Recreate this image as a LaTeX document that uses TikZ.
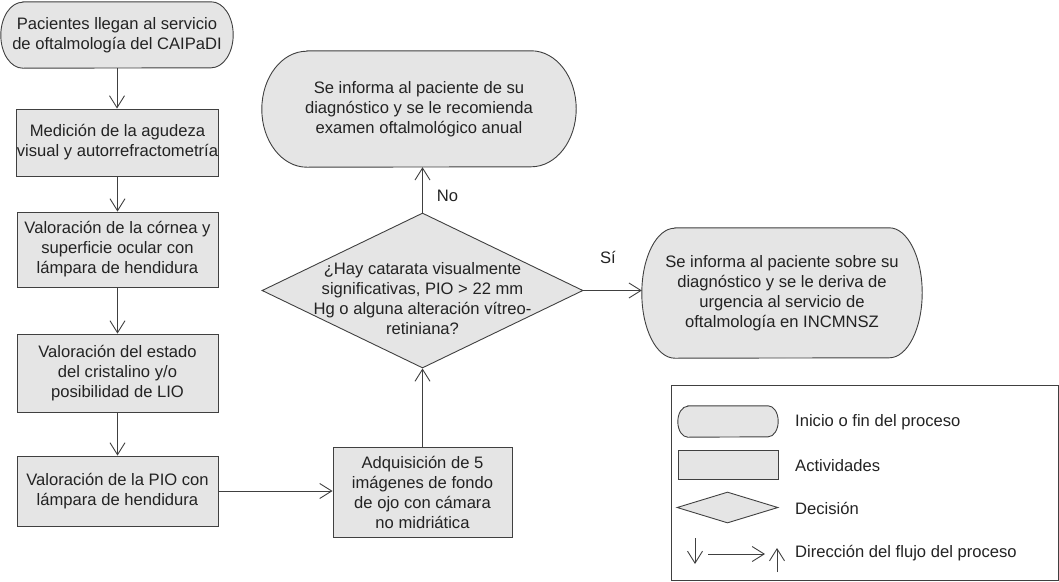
\documentclass[tikz,border=0pt]{standalone}
\usepackage{fontspec}
\setmainfont{Liberation Sans}
\usetikzlibrary{shapes.geometric,arrows.meta}
\definecolor{relleno}{RGB}{229,229,229}
\definecolor{trazo}{RGB}{64,64,64}
\definecolor{texto}{RGB}{35,35,35}
\pgfdeclarelayer{fondo}
\pgfsetlayers{fondo,main}
\tikzset{
  terminal/.style={inner sep=0pt, align=center, text=texto},
  forma/.style={draw=trazo, fill=relleno, line width=0.9pt},
  actividad/.style={forma, inner sep=0pt, align=center, text=texto},
  decision/.style={forma, diamond, inner sep=0pt},
  etiqueta/.style={text=texto, align=center, inner sep=0pt},
  flujo/.style={draw=trazo, line width=0.9pt, -{Straight Barb[length=12pt,width=15pt]}}
}
% contorno de inicio/fin con extremos elipticos: nodo, radio x, radio y
\newcommand{\contorno}[3]{%
  \begin{pgfonlayer}{fondo}
    \path[forma] ([xshift=#2]#1.north west) -- ([xshift=-#2]#1.north east)
      arc[start angle=90, end angle=-90, x radius=#2, y radius=#3]
      -- ([xshift=#2]#1.south west)
      arc[start angle=270, end angle=90, x radius=#2, y radius=#3] -- cycle;
  \end{pgfonlayer}}
\begin{document}
\begin{tikzpicture}[x=1pt, y=-1pt, font=\fontsize{16.6}{20}\selectfont]
	\useasboundingbox (0,0) rectangle (1059,581);
	% columna de actividades
	\node[terminal, minimum width=232pt, minimum height=66pt] (inicio) at (117,35) {Pacientes llegan al servicio\\de oftalmología del CAIPaDI};
	\contorno{inicio}{22pt}{33pt}
	\node[actividad, minimum width=201pt, minimum height=67pt] (agudeza) at (117.5,142.5) {Medición de la agudeza\\visual y autorrefractometría};
	\node[actividad, minimum width=201pt, minimum height=75pt] (cornea) at (117.5,249.5) {Valoración de la córnea y\\superficie ocular con\\lámpara de hendidura};
	\node[actividad, minimum width=201pt, minimum height=78pt] (cristalino) at (117.5,373) {Valoración del estado\\del cristalino y/o\\posibilidad de LIO};
	\node[actividad, minimum width=201pt, minimum height=70pt] (pio) at (117.5,491) {Valoración de la PIO con\\lámpara de hendidura};
	\node[actividad, minimum width=179pt, minimum height=90pt] (fondo) at (422.5,492) {Adquisición de 5\\imágenes de fondo\\de ojo con cámara\\no midriática};
	% decision y finales
	\node[decision, minimum width=321pt, minimum height=155pt] (dec) at (422.5,290.5) {};
	\node[etiqueta] (pregunta) at ([yshift=-8pt]dec.center) {¿Hay catarata visualmente\\significativas, PIO > 22 mm\\Hg o alguna alteración vítreo-\\retiniana?};
	\node[terminal, minimum width=314pt, minimum height=116pt] (finno) at (419,109) {Se informa al paciente de su\\diagnóstico y se le recomienda\\examen oftalmológico anual};
	\contorno{finno}{45pt}{58pt}
	\node[terminal, minimum width=280pt, minimum height=130pt] (finsi) at (782,293) {Se informa al paciente sobre su\\diagnóstico y se le deriva de\\urgencia al servicio de\\oftalmología en INCMNSZ};
	\contorno{finsi}{33pt}{65pt}
	% flechas
	\draw[flujo] (inicio.south) -- (inicio.south |- agudeza.north);
	\draw[flujo] (agudeza) -- (cornea);
	\draw[flujo] (cornea) -- (cristalino);
	\draw[flujo] (cristalino) -- (pio);
	\draw[flujo] (pio.east) -- (pio.east -| fondo.west);
	\draw[flujo] (fondo) -- (dec.south);
	\draw[flujo] (dec.north) -- (dec.north |- finno.south) node[etiqueta, pos=0.37, right=14pt] {No};
	\draw[flujo] (dec.east) -- (dec.east -| finsi.west) node[etiqueta, pos=0.42, above=26pt] {Sí};
	% leyenda
	\node[draw=trazo, line width=0.9pt, minimum width=387pt, minimum height=195pt, inner sep=0pt] (leyenda) at (864.5,482.5) {};
	\node[terminal, minimum width=100pt, minimum height=31pt] (leyinicio) at (728,421.5) {};
	\contorno{leyinicio}{10pt}{15.5pt}
	\node[actividad, minimum width=100pt, minimum height=29pt] (leyact) at (728,464.5) {};
	\node[decision, minimum width=101pt, minimum height=31pt] (leydec) at (727.5,507.5) {};
	\coordinate (bajaA) at (695,538);
	\coordinate (bajaB) at (695,564);
	\coordinate (ladoA) at (708,554);
	\coordinate (ladoB) at (765,554);
	\coordinate (subeA) at (777,572);
	\coordinate (subeB) at (777,548);
	\draw[flujo] (bajaA) -- (bajaB);
	\draw[flujo] (ladoA) -- (ladoB);
	\draw[flujo] (subeA) -- (subeB);
	\node[etiqueta, anchor=west] (txtinicio) at (795,422) {Inicio o fin del proceso};
	\node[etiqueta, anchor=west] (txtact) at (795,466) {Actividades};
	\node[etiqueta, anchor=west] (txtdec) at (795,508) {Decisión};
	\node[etiqueta, anchor=west] (txtflujo) at (795,553) {Dirección del flujo del proceso};
\end{tikzpicture}
\end{document}
